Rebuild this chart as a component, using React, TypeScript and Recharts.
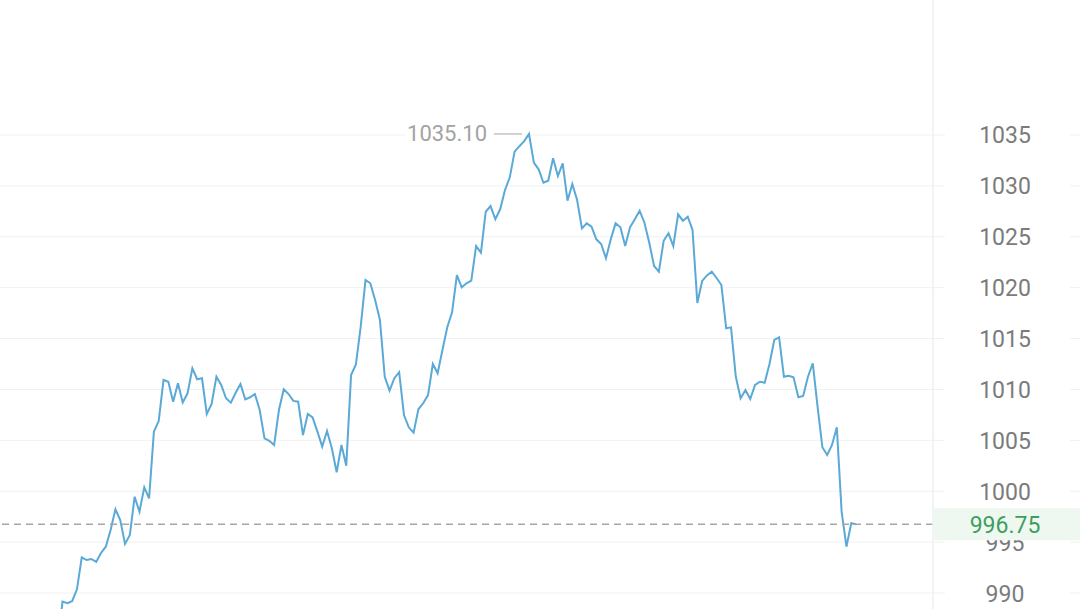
import {
  CartesianGrid,
  Line,
  LineChart,
  ReferenceDot,
  ReferenceLine,
  XAxis,
  YAxis,
} from "recharts";

// one price per minute, session is 194 minutes long (chart is cut at minute 178)
const prices = [
  984.2, 983.6, 984.8, 985.5, 984.9, 983.8, 984.6, 985.9, 986.4, 985.7,
  986.8, 986.1, 985.0, 989.15, 989.0, 989.2, 990.36, 993.51, 993.24, 993.34,
  993.05, 993.93, 994.55, 996.19, 998.23, 997.17, 994.82, 995.7, 999.46, 997.99,
  1000.39, 999.3, 1005.85, 1006.9, 1010.93, 1010.76, 1008.8, 1010.6, 1008.72, 1009.62,
  1012.08, 1011.0, 1011.1, 1007.59, 1008.57, 1011.25, 1010.44, 1009.13, 1008.7, 1009.68,
  1010.54, 1009.03, 1009.23, 1009.55, 1007.98, 1005.2, 1004.96, 1004.54, 1007.98, 1010.02,
  1009.55, 1008.87, 1008.8, 1005.52, 1007.59, 1007.26, 1005.85, 1004.38, 1005.92, 1004.22,
  1001.86, 1004.54, 1002.51, 1011.42, 1012.45, 1016.17, 1020.75, 1020.43, 1018.79, 1016.82,
  1011.25, 1009.88, 1011.1, 1011.69, 1007.49, 1006.28, 1005.75, 1008.05, 1008.64, 1009.45,
  1012.5, 1011.59, 1013.88, 1016.11, 1017.58, 1021.24, 1020.04, 1020.43, 1020.69, 1024.09,
  1023.44, 1027.46, 1028.02, 1026.72, 1027.7, 1029.6, 1030.84, 1033.36, 1033.9, 1034.4,
  1035.1, 1032.28, 1031.63, 1030.31, 1030.51, 1032.71, 1030.97, 1032.22, 1028.54, 1030.19,
  1028.61, 1025.83, 1026.32, 1025.99, 1024.75, 1024.29, 1022.89, 1024.75, 1026.32, 1025.93,
  1024.09, 1025.93, 1026.72, 1027.56, 1026.38, 1024.42, 1022.13, 1021.57, 1024.61, 1025.34,
  1024.09, 1027.21, 1026.58, 1026.97, 1025.67, 1018.49, 1020.66, 1021.2, 1021.57, 1020.95,
  1020.26, 1016.01, 1016.1, 1011.25, 1009.13, 1009.95, 1009.06, 1010.44, 1010.76, 1010.66,
  1012.5, 1014.86, 1015.12, 1011.25, 1011.35, 1011.19, 1009.23, 1009.36, 1011.25, 1012.57,
  1008.31, 1004.32, 1003.56, 1004.54, 1006.28, 997.99, 994.55, 996.85, 996.75,
];

const yTicks = [990, 995, 1000, 1005, 1010, 1015, 1020, 1025, 1030, 1035];
const sessionMinutes = 194;
const lastPrice = 996.75;

const chartData = prices.map((price, t) => ({ t, price }));
const maxPrice = Math.max(...prices);
const maxIndex = prices.indexOf(maxPrice);

const GRID = "#f1f1f1";
const FONT = "Roboto, 'Noto Sans', sans-serif";
const AXIS_W = 147;

// last price is passed as an extra tick so its tag is painted after (over) the 995 label
function PriceTick(props: any) {
  const { x, y, payload } = props;
  if (payload.value === lastPrice) {
    return (
      <g>
        <rect x={x} y={y - 16} width={AXIS_W} height={32} fill="#eef8f0" />
        <text
          x={x + 72}
          y={y}
          dy={1}
          textAnchor="middle"
          dominantBaseline="central"
          fill="#3f9e5e"
          fontSize={23}
          fontFamily={FONT}
        >
          {lastPrice.toFixed(2)}
        </text>
      </g>
    );
  }
  return (
    <g>
      <line x1={x} x2={x + 12} y1={y} y2={y} stroke={GRID} />
      <line x1={x + 137} x2={x + AXIS_W} y1={y} y2={y} stroke={GRID} />
      <text
        x={x + 72}
        y={y}
        dy={1}
        textAnchor="middle"
        dominantBaseline="central"
        fill="#7b7b7b"
        fontSize={23}
        fontFamily={FONT}
      >
        {payload.value}
      </text>
    </g>
  );
}

function MaxMarker(props: any) {
  const { cx, cy } = props;
  if (cx == null || cy == null) return null;
  return (
    <g>
      <rect x={cx - 124} y={cy - 4} width={120} height={8} fill="#ffffff" />
      <line x1={cx - 35} x2={cx - 7} y1={cy} y2={cy} stroke="#b5b5b5" strokeWidth={1.2} />
      <text
        x={cx - 42}
        y={cy}
        textAnchor="end"
        dominantBaseline="central"
        fill="#a3a3a3"
        fontSize={22}
        fontFamily={FONT}
      >
        {maxPrice.toFixed(2)}
      </text>
    </g>
  );
}

export default function App() {
  return (
    <div style={{ position: "absolute", left: 0, top: 0, background: "#fff" }}>
      <LineChart
        width={1080}
        height={609}
        data={chartData}
        margin={{ top: 0, right: 0, bottom: 0, left: 0 }}
      >
        <CartesianGrid
          horizontal
          vertical={false}
          horizontalValues={yTicks}
          stroke={GRID}
        />
        <XAxis
          dataKey="t"
          type="number"
          domain={[0, sessionMinutes]}
          hide
        />
        <YAxis
          orientation="right"
          width={AXIS_W}
          domain={[988.428, 1048.264]}
          allowDataOverflow
          ticks={[...yTicks, lastPrice]}
          interval={0}
          tickSize={0}
          tickMargin={0}
          tickLine={false}
          axisLine={{ stroke: "#efefef", strokeWidth: 1.5 }}
          tick={<PriceTick />}
        />
        <ReferenceDot
          x={maxIndex}
          y={maxPrice}
          r={0}
          shape={(p: any) => <MaxMarker {...p} />}
        />
        <Line
          type="linear"
          dataKey="price"
          stroke="#5aa9d6"
          strokeWidth={2}
          dot={false}
          activeDot={false}
          isAnimationActive={false}
        />
        <ReferenceLine
          y={lastPrice}
          stroke="#a6a6a6"
          strokeWidth={1.5}
          strokeDasharray="7 5"
        />
      </LineChart>
    </div>
  );
}
